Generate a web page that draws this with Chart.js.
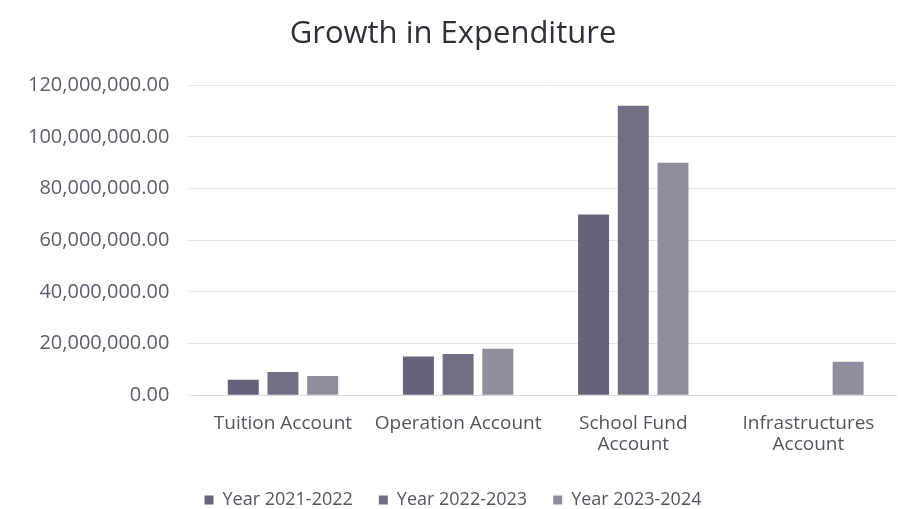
<!DOCTYPE html>
<html>
<head>
<meta charset="utf-8">
<script src="https://cdn.jsdelivr.net/npm/chart.js@4"></script>
<style>
  html, body { margin: 0; padding: 0; background: #fff; }
  #wrap { width: 898px; height: 509px; }
</style>
</head>
<body>
<div id="wrap"><canvas id="expChart" width="898" height="509"></canvas></div>
<script>
const categories = ['Tuition Account', 'Operation Account', ['School Fund', 'Account'], ['Infrastructures', 'Account']];
const year2122 = [6000000, 15000000, 70000000, 0];
const year2223 = [9000000, 16000000, 112000000, 0];
const year2324 = [7500000, 18000000, 90000000, 13000000];
const seriesNames = ['Year 2021-2022', 'Year 2022-2023', 'Year 2023-2024'];
const seriesColors = ['#65637a', '#726f85', '#8f8d9e'];

const ctx = document.getElementById('expChart').getContext('2d');
const fontFam = '"Open Sans", sans-serif';

new Chart(ctx, {
    type: 'bar',
    data: {
        labels: categories,
        datasets: [year2122, year2223, year2324].map((vals, i) => ({
            label: seriesNames[i],
            data: vals,
            backgroundColor: seriesColors[i],
            borderWidth: 0
        }))
    },
    options: {
        responsive: false,
        animation: false,
        layout: { padding: { left: 10, right: 2, top: 2, bottom: -10 } },
        datasets: {
            bar: { categoryPercentage: 0.68, barPercentage: 0.78 }
        },
        plugins: {
            title: {
                display: true,
                text: 'Growth in Expenditure',
                color: '#2f2f38',
                font: { family: fontFam, size: 31, weight: 'normal' },
                padding: { top: 14, bottom: 32 }
            },
            legend: {
                position: 'bottom',
                labels: {
                    boxWidth: 9,
                    boxHeight: 9,
                    color: '#555560',
                    padding: 26,
                    font: { family: fontFam, size: 18 }
                }
            },
            tooltip: { enabled: false }
        },
        scales: {
            x: {
                grid: { display: false },
                border: { color: '#d9d9d9' },
                ticks: {
                    color: '#555560',
                    autoSkip: false,
                    font: { family: fontFam, size: 19, lineHeight: 1.15 },
                    maxRotation: 0,
                    padding: 9
                }
            },
            y: {
                min: 0,
                max: 120000000,
                border: { display: false },
                grid: { color: '#e6e6e6' },
                ticks: {
                    stepSize: 20000000,
                    color: '#5c5c6e',
                    padding: 18,
                    font: { family: fontFam, size: 20 },
                    callback: v => v.toLocaleString('en-US', { minimumFractionDigits: 2, maximumFractionDigits: 2 })
                }
            }
        }
    }
});
</script>
</body>
</html>
